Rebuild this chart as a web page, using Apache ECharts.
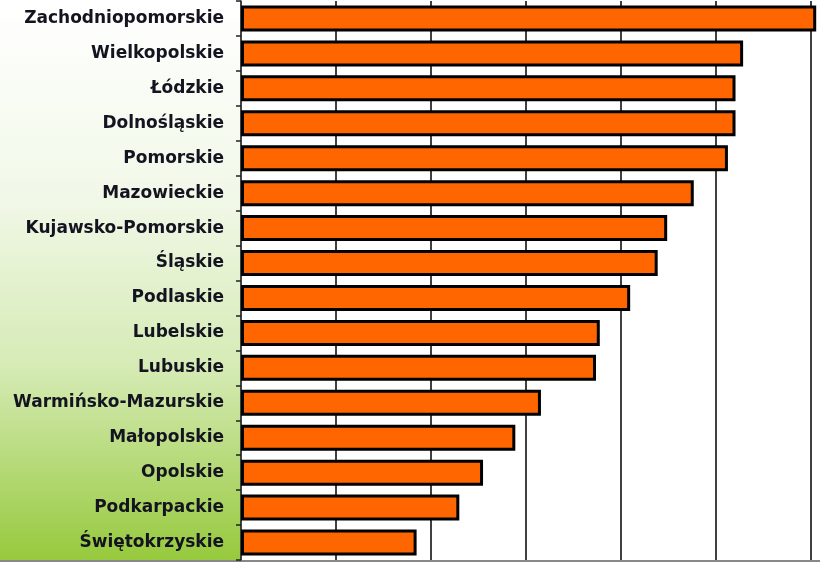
<!DOCTYPE html>
<html><head><meta charset="utf-8">
<script src="https://cdn.jsdelivr.net/npm/echarts@6/dist/echarts.min.js"></script>
<style>html,body{margin:0;padding:0;}#c{width:820px;height:562px;}</style>
</head><body><div id="c"></div>
<script>
const categories = ["Zachodniopomorskie","Wielkopolskie","Łódzkie","Dolnośląskie","Pomorskie","Mazowieckie","Kujawsko-Pomorskie","Śląskie","Podlaskie","Lubelskie","Lubuskie","Warmińsko-Mazurskie","Małopolskie","Opolskie","Podkarpackie","Świętokrzyskie"];
const values = [6.06,5.29,5.21,5.21,5.13,4.77,4.49,4.39,4.10,3.78,3.74,3.16,2.89,2.55,2.30,1.85];
const axisMax = 6.1;

const chart = echarts.init(document.getElementById('c'));
chart.setOption({
  animation: false,
  backgroundColor: new echarts.graphic.LinearGradient(0,0,0,1,[
    {offset:0,color:'#ffffff'},{offset:0.35,color:'#f1f8e8'},{offset:0.65,color:'#d6ebb6'},{offset:1,color:'#96c93c'}]),
  grid: {left:241, right:0, top:1, bottom:2, show:true, backgroundColor:'#ffffff', borderWidth:0, containLabel:false},
  xAxis: {type:'value', min:0, max:axisMax, interval:1,
    axisLabel:{show:false}, axisTick:{show:false}, axisLine:{show:false},
    splitLine:{show:true, showMaxLine:false, lineStyle:{color:'#000', width:1.5}}},
  yAxis: {type:'category', data:categories, inverse:true,
    axisLine:{show:true, lineStyle:{color:'#444', width:1.5}},
    axisTick:{show:true, length:5, lineStyle:{color:'#222', width:1.5}},
    axisLabel:{color:'#141420', fontFamily:'DejaVu Sans', fontWeight:'bold', fontSize:17, margin:17}},
  series: [{type:'bar', data:values, barWidth:26,
    itemStyle:{color:'#ff6600', borderColor:'#000', borderWidth:3}}],
  graphic: [{type:'rect', left:0, bottom:0, shape:{width:820, height:2}, style:{fill:'#888'}, silent:true}]
});
</script></body></html>
